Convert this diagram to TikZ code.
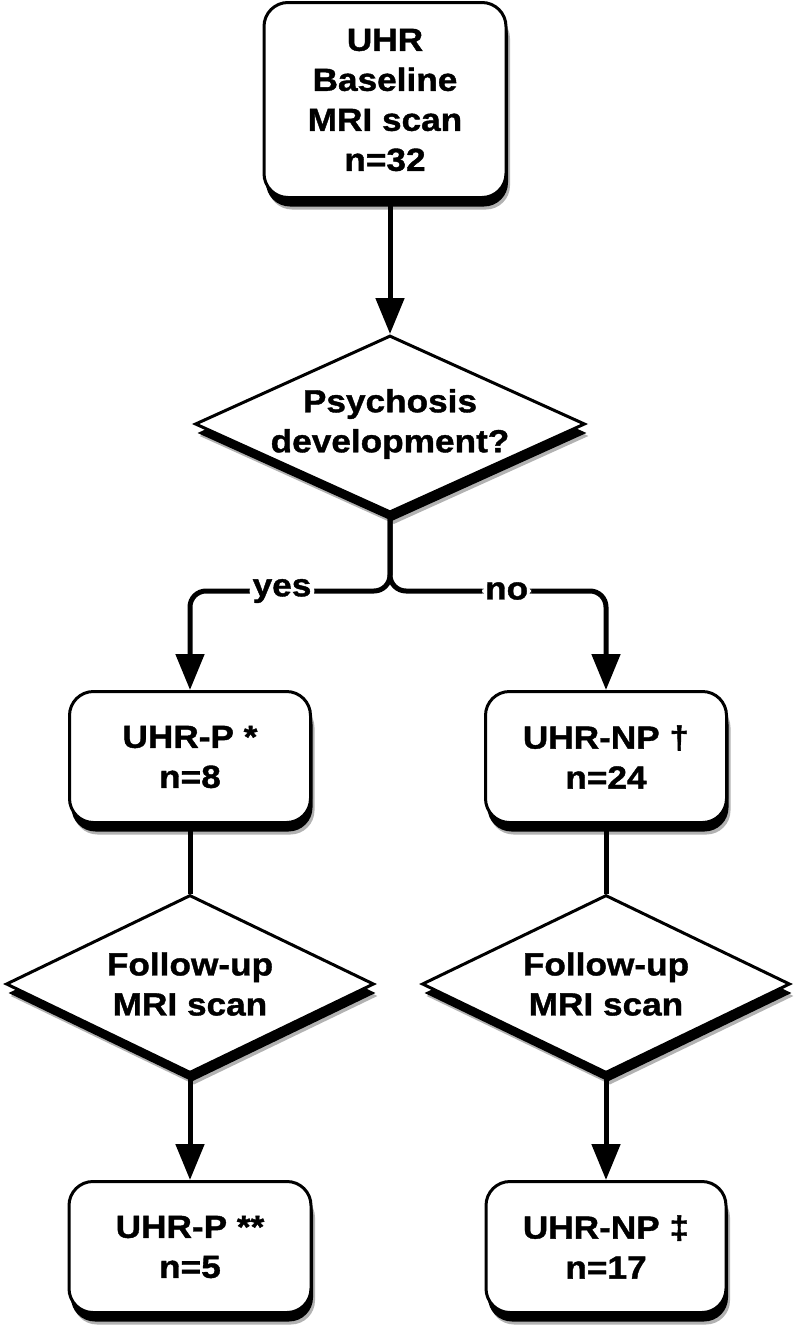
\documentclass[tikz,border=0pt]{standalone}
\usepackage{fontspec}
\setmainfont{Liberation Sans}[FakeStretch=1.1, BoldFeatures={FakeBold=1.2}]
\usetikzlibrary{shapes.geometric, shadows, arrows.meta, positioning}

\begin{document}
\begin{tikzpicture}[x=1pt, y=-1pt,
	font=\fontsize{32}{40}\selectfont\bfseries,
	shade/.style={drop shadow={shadow xshift=4pt, shadow yshift=-12pt, opacity=0.3, fill=black},
		drop shadow={shadow xshift=2pt, shadow yshift=-9pt, opacity=1, fill=black}},
	box/.style={rectangle, rounded corners=24pt, draw, line width=3pt, fill=white, align=center, shade, inner sep=0pt},
	decision/.style={diamond, draw, line width=3pt, fill=white, inner sep=0pt, shade},
	txt/.style={align=center, inner sep=0pt},
	arr/.style={line width=5pt, -{Triangle[width=28pt, length=36pt]}},
	conn/.style={line width=5pt},
	branch/.style={fill=white, inner sep=3pt}]
	
	\fill[white] (0,0) rectangle (797,1336);
	\useasboundingbox (0,0) rectangle (797,1336);
	
	% baseline and first decision
	\node[box, minimum width=242pt, minimum height=195pt] (base) at (385,100) {UHR\\Baseline\\MRI scan\\n=32};
	\node[decision, minimum width=390pt, minimum height=177pt] (psy) at (390,424) {};
	\node[txt] (psytxt) at (psy) {Psychosis\\development?};
	\draw[arr] (psy.north |- base.south) -- (psy.north);
	
	% groups
	\node[box, minimum width=241pt, minimum height=131pt] (uhrp) at (190,757) {UHR-P *\\n=8};
	\node[box, minimum width=241pt, minimum height=131pt] (uhrnp) at (606,757) {UHR-NP \textdagger\\n=24};
	
	\coordinate (fork) at (390,591);
	\draw[arr, rounded corners=16pt] (psy.south) |- node[branch, pos=0.77]{yes} (uhrp.north |- fork) -- (uhrp.north);
	\draw[arr, rounded corners=16pt] (psy.south) |- node[branch, pos=0.77]{no} (uhrnp.north |- fork) -- (uhrnp.north);
	
	% follow-up
	\node[decision, minimum width=368pt, minimum height=178pt] (fup) at (190,984) {};
	\node[txt] (fuptxt) at (fup) {Follow-up\\MRI scan};
	\node[decision, minimum width=368pt, minimum height=178pt] (funp) at (606,984) {};
	\node[txt] (funptxt) at (funp) {Follow-up\\MRI scan};
	\draw[conn] (uhrp) -- (fup);
	\draw[conn] (uhrnp) -- (funp);
	
	% final groups
	\node[box, minimum width=242pt, minimum height=131pt] (endp) at (190,1247) {UHR-P **\\n=5};
	\node[box, minimum width=240pt, minimum height=131pt] (endnp) at (606,1247) {UHR-NP \textdaggerdbl\\n=17};
	\draw[arr] (fup) -- (endp);
	\draw[arr] (funp) -- (endnp);
\end{tikzpicture}
\end{document}
